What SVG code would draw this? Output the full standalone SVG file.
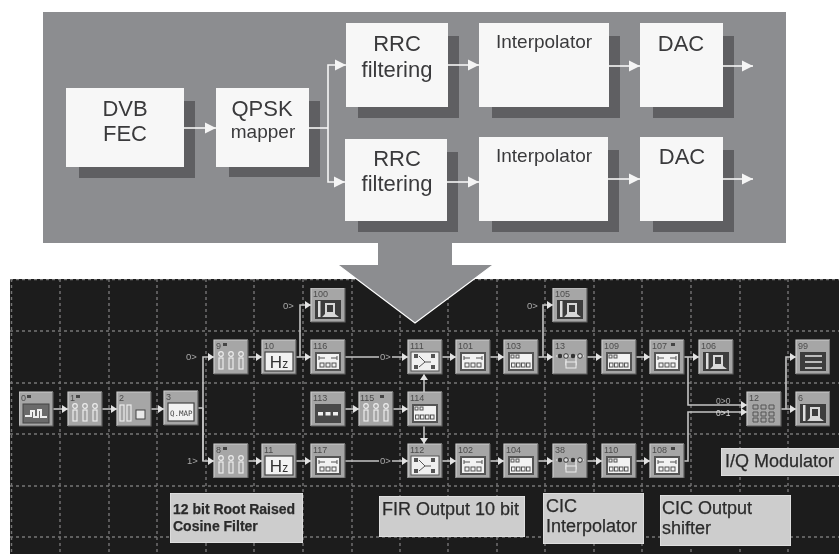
<svg xmlns="http://www.w3.org/2000/svg" xmlns:xlink="http://www.w3.org/1999/xlink" width="839" height="554" viewBox="0 0 839 554">
<style>
.t{font-family:"Liberation Sans",Arial,sans-serif;fill:#3a3a3c;text-anchor:middle}
.big{font-size:22px}.mid{font-size:19px}
.box{fill:#f7f7f7}.sh{fill:#5f5f62}
.w{fill:none;stroke:#f5f5f5;stroke-width:1.6}
.grid{stroke:#747474;stroke-width:1.4;stroke-dasharray:3 3;fill:none}
.c{fill:none;stroke:#c4c4c4;stroke-width:1.6}
.num{font-family:"Liberation Sans",Arial,sans-serif;font-size:9px;fill:#4c4c4c}
.port{font-family:"Liberation Sans",Arial,sans-serif;font-size:9.5px;fill:#a8a8a8}
.lb{fill:#cdcdcd;stroke:#eeeeee;stroke-width:1}
.lt{font-family:"Liberation Sans",Arial,sans-serif;font-size:18px;fill:#2c2c2c;stroke:#2c2c2c;stroke-width:.25}
.lb2{font-weight:bold;font-size:14px}
.p{fill:#f2f2f2;stroke:#444;stroke-width:1.2}
.ink{fill:none;stroke:#555;stroke-width:1}
.lite{fill:none;stroke:#ececec;stroke-width:1.2}
.dk{fill:#555}
</style>
<defs>
<marker id="aw" markerUnits="userSpaceOnUse" markerWidth="12" markerHeight="12" refX="11" refY="6" orient="auto"><path d="M0 0.5L11 6L0 11.5z" fill="#f5f5f5"/></marker>
<marker id="ag" markerUnits="userSpaceOnUse" markerWidth="7" markerHeight="8" refX="6" refY="4" orient="auto"><path d="M0 0L6 4L0 8z" fill="#e2e2e2"/></marker>
<filter id="soft" x="0" y="0" width="1" height="1"><feGaussianBlur stdDeviation="0.45"/></filter>
<g id="b"><rect width="34" height="34" fill="#a6a6a6"/><path d="M0 34V0H34" fill="none" stroke="#cdcdcd" stroke-width="1.2"/><path d="M34 0V34H0" fill="none" stroke="#5c5c5c" stroke-width="1.2"/></g>
<g id="scope"><rect x="4" y="12" width="26" height="19" fill="#3c3c3c"/><rect x="7" y="13" width="2.500" height="16" fill="#ddd"/><path d="M11 29L14 26V15H24V26L28 29z" fill="#d8d8d8"/><rect x="16" y="17" width="6" height="7" fill="#3c3c3c"/></g>
<g id="sl"><g id="slc"><circle cx="7" cy="14" r="2.300" class="lite"/><rect x="5" y="18" width="4" height="11" class="lite"/></g><use href="#slc" x="10"/><use href="#slc" x="20"/></g>
<g id="hz"><rect x="3" y="12" width="28" height="19" class="p"/><text x="17" y="28" style="font-family:'Liberation Sans',sans-serif;font-size:17px;fill:#333" text-anchor="middle">H<tspan font-size="12">z</tspan></text></g>
<g id="bs"><rect x="4" y="12" width="26" height="19" fill="#555"/><rect x="6" y="14" width="22" height="15" fill="#f2f2f2"/><path d="M8 16V20M8 18H14M20 18H26M26 16V20" class="ink"/><rect x="9" y="23" width="4" height="4" class="ink"/><rect x="15" y="23" width="4" height="4" class="ink"/><rect x="21" y="23" width="4" height="4" class="ink"/></g>
<g id="rg"><rect x="4" y="12" width="26" height="19" fill="#555"/><rect x="6" y="14" width="22" height="15" fill="#f2f2f2"/><rect x="7" y="15" width="3" height="3" class="ink"/><rect x="12" y="15" width="3" height="3" class="ink"/><rect x="7.500" y="23" width="3.500" height="4" class="ink"/><rect x="12.500" y="23" width="3.500" height="4" class="ink"/><rect x="17.500" y="23" width="3.500" height="4" class="ink"/><rect x="22.500" y="23" width="3.500" height="4" class="ink"/></g>
<g id="fir"><rect x="3" y="12" width="28" height="19" fill="#f0f0f0" stroke="#555"/><rect x="6" y="14" width="4" height="4" class="dk"/><rect x="23" y="14" width="4" height="4" class="dk"/><rect x="6" y="25" width="4" height="4" class="dk"/><rect x="23" y="25" width="4" height="4" class="dk"/><path d="M11 16L17 22L11 27M17 22H23" class="ink" stroke-width="2"/></g>
<g id="cic"><path d="M3 16H31M13 16V25H23V16" class="lite"/><rect x="13" y="22" width="10" height="6" fill="#a6a6a6" stroke="#ececec"/><circle cx="7" cy="16" r="2.300" fill="#333"/><circle cx="13" cy="16" r="2.300" fill="#ddd" stroke="#333"/><circle cx="20" cy="16" r="2.300" fill="#333"/><circle cx="27" cy="16" r="2.300" fill="#ddd" stroke="#333"/></g>
</defs>
<rect width="839" height="554" fill="#fff"/>

<g id="top-panel">
<rect x="43" y="12" width="743" height="231" fill="#8c8d90"/>
</g>

<g id="bottom-panel" filter="url(#soft)">
<rect x="10" y="279" width="829" height="275" fill="#1e1d1e"/>
<path class="grid" d="M11.500 279V554M60 279V554M109 279V554M157 279V554M206 279V554M254 279V554M303 279V554M352 279V554M400 279V554M448 279V554M497 279V554M545 279V554M594 279V554M642 279V554M691 279V554M740 279V554M788 279V554M10 279.500H839M10 331H839M10 383H839M10 434H839M10 486H839M10 537H839"/>
</g>

<g id="connectors-bottom" filter="url(#soft)">
<path class="c" marker-end="url(#ag)" d="M53 409H68"/>
<path class="c" marker-end="url(#ag)" d="M102 409H117"/>
<path class="c" marker-end="url(#ag)" d="M150 409H164"/>
<path class="c" d="M198 408H203"/>
<path class="c" marker-end="url(#ag)" d="M203 461V357H214"/>
<path class="c" marker-end="url(#ag)" d="M203 408V461H214"/>
<path class="c" marker-end="url(#ag)" d="M247 357H262"/>
<path class="c" marker-end="url(#ag)" d="M296 357H311"/>
<path class="c" marker-end="url(#ag)" d="M300 357V305H311"/>
<path class="c" marker-end="url(#ag)" d="M344 357H408"/>
<path class="c" marker-end="url(#ag)" d="M247 461H262"/>
<path class="c" marker-end="url(#ag)" d="M296 461H311"/>
<path class="c" marker-end="url(#ag)" d="M344 461H408"/>
<path class="c" marker-end="url(#ag)" d="M345 409H359"/>
<path class="c" marker-end="url(#ag)" d="M393 409H408"/>
<path class="c" marker-end="url(#ag)" d="M424 392V374"/>
<path class="c" marker-end="url(#ag)" d="M424 426V444"/>
<path class="c" marker-end="url(#ag)" d="M441 357H456"/>
<path class="c" marker-end="url(#ag)" d="M490 357H504"/>
<path class="c" marker-end="url(#ag)" d="M538 357H553"/>
<path class="c" marker-end="url(#ag)" d="M543 357V305H553"/>
<path class="c" marker-end="url(#ag)" d="M587 357H602"/>
<path class="c" marker-end="url(#ag)" d="M635 357H650"/>
<path class="c" marker-end="url(#ag)" d="M684 357H699"/>
<path class="c" marker-end="url(#ag)" d="M441 461H456"/>
<path class="c" marker-end="url(#ag)" d="M490 461H504"/>
<path class="c" marker-end="url(#ag)" d="M538 461H553"/>
<path class="c" marker-end="url(#ag)" d="M587 461H602"/>
<path class="c" marker-end="url(#ag)" d="M635 461H650"/>
<path class="c" marker-end="url(#ag)" d="M688 357V405H747"/>
<path class="c" marker-end="url(#ag)" d="M684 461H688V412H747"/>
<path class="c" marker-end="url(#ag)" d="M781 409H796"/>
<path class="c" marker-end="url(#ag)" d="M786 409V357H796"/>
<text class="port" x="186" y="360">0&gt;</text>
<text class="port" x="187" y="464">1&gt;</text>
<text class="port" x="283" y="309">0&gt;</text>
<text class="port" x="527" y="309">0&gt;</text>
<rect x="379" y="352" width="13" height="10" fill="#1e1d1e"/><text class="port" x="380" y="360">0&gt;</text>
<rect x="379" y="456" width="13" height="10" fill="#1e1d1e"/><text class="port" x="380" y="464">0&gt;</text>
<text class="port" x="716" y="404" style="font-size:8.5px">0&gt;0</text>
<text class="port" x="716" y="416" style="font-size:8.5px;fill:#ddd">0&gt;1</text>
</g>

<g filter="url(#soft)">
<g id="n0" transform="translate(19,392)"><use href="#b"/><text class="num" x="2" y="9">0</text><rect x="8" y="3" width="4" height="3" fill="#444"/><rect x="4" y="12" width="26" height="19" fill="#6a6a6a" stroke="#444"/><path d="M6 24H12V19H15V25H19V18H22V25H28" fill="none" stroke="#eee" stroke-width="2"/></g>
<g id="n1" transform="translate(68,392)"><use href="#b"/><text class="num" x="2" y="9">1</text><rect x="8" y="3" width="4" height="3" fill="#444"/><use href="#sl"/></g>
<g id="n2" transform="translate(117,392)"><use href="#b"/><text class="num" x="2" y="9">2</text><rect x="3" y="13" width="4" height="16" class="lite"/><rect x="10" y="13" width="4" height="16" class="lite"/><rect x="19" y="18" width="9" height="9" fill="#e8e8e8" stroke="#444"/></g>
<g id="n3" transform="translate(164,391)"><use href="#b"/><text class="num" x="2" y="9">3</text><rect x="4" y="12" width="26" height="18" class="p"/><text x="6" y="25" style="font-family:'DejaVu Sans Mono',monospace;font-size:7.5px;fill:#444">Q.MAP</text></g>
<g id="n9" transform="translate(214,340)"><use href="#b"/><text class="num" x="2" y="9">9</text><rect x="9" y="3" width="4" height="3" fill="#444"/><use href="#sl"/></g>
<g id="n10" transform="translate(262,340)"><use href="#b"/><text class="num" x="2" y="9">10</text><use href="#hz"/></g>
<g id="n116" transform="translate(311,340)"><use href="#b"/><text class="num" x="2" y="9">116</text><use href="#bs"/></g>
<g id="n100" transform="translate(311,288)"><use href="#b"/><text class="num" x="2" y="9">100</text><use href="#scope"/></g>
<g id="n111" transform="translate(408,340)"><use href="#b"/><text class="num" x="2" y="9">111</text><use href="#fir"/></g>
<g id="n113" transform="translate(311,392)"><use href="#b"/><text class="num" x="2" y="9">113</text><rect x="4" y="12" width="26" height="19" fill="#4a4a4a"/><rect x="7" y="20" width="5" height="3.500" fill="#eee"/><rect x="14.500" y="20" width="5" height="3.500" fill="#eee"/><rect x="22" y="20" width="5" height="3.500" fill="#eee"/></g>
<g id="n115" transform="translate(359,392)"><use href="#b"/><text class="num" x="1" y="9">115</text><rect x="21" y="3" width="4" height="3" fill="#444"/><use href="#sl"/></g>
<g id="n114" transform="translate(408,392)"><use href="#b"/><text class="num" x="2" y="9">114</text><use href="#rg"/></g>
<g id="n8" transform="translate(214,444)"><use href="#b"/><text class="num" x="2" y="9">8</text><rect x="9" y="3" width="4" height="3" fill="#444"/><use href="#sl"/></g>
<g id="n11" transform="translate(262,444)"><use href="#b"/><text class="num" x="2" y="9">11</text><use href="#hz"/></g>
<g id="n117" transform="translate(311,444)"><use href="#b"/><text class="num" x="2" y="9">117</text><use href="#bs"/></g>
<g id="n112" transform="translate(408,444)"><use href="#b"/><text class="num" x="2" y="9">112</text><use href="#fir"/></g>
<g id="n101" transform="translate(456,340)"><use href="#b"/><text class="num" x="2" y="9">101</text><use href="#bs"/></g>
<g id="n103" transform="translate(504,340)"><use href="#b"/><text class="num" x="2" y="9">103</text><use href="#rg"/></g>
<g id="n105" transform="translate(553,288)"><use href="#b"/><text class="num" x="2" y="9">105</text><use href="#scope"/></g>
<g id="n13" transform="translate(553,340)"><use href="#b"/><text class="num" x="2" y="9">13</text><use href="#cic"/></g>
<g id="n109" transform="translate(602,340)"><use href="#b"/><text class="num" x="2" y="9">109</text><use href="#rg"/></g>
<g id="n107" transform="translate(650,340)"><use href="#b"/><text class="num" x="2" y="9">107</text><rect x="21" y="3" width="4" height="3" fill="#444"/><use href="#bs"/></g>
<g id="n106" transform="translate(699,340)"><use href="#b"/><text class="num" x="2" y="9">106</text><use href="#scope"/></g>
<g id="n102" transform="translate(456,444)"><use href="#b"/><text class="num" x="2" y="9">102</text><use href="#bs"/></g>
<g id="n104" transform="translate(504,444)"><use href="#b"/><text class="num" x="2" y="9">104</text><use href="#rg"/></g>
<g id="n38" transform="translate(553,444)"><use href="#b"/><text class="num" x="2" y="9">38</text><use href="#cic"/></g>
<g id="n110" transform="translate(602,444)"><use href="#b"/><text class="num" x="2" y="9">110</text><use href="#rg"/></g>
<g id="n108" transform="translate(650,444)"><use href="#b"/><text class="num" x="2" y="9">108</text><rect x="21" y="3" width="4" height="3" fill="#444"/><use href="#bs"/></g>
<g id="n12" transform="translate(747,392)"><use href="#b"/><text class="num" x="2" y="9">12</text><path d="M6 13h5v4H6zM14 13h5v4h-5zM22 13h5v4h-5zM6 20h5v4H6zM14 20h5v4h-5zM22 20h5v4h-5zM6 26h5v4H6zM14 26h5v4h-5zM22 26h5v4h-5z" class="ink"/></g>
<g id="n99" transform="translate(796,340)"><use href="#b"/><text class="num" x="2" y="9">99</text><rect x="4" y="12" width="26" height="19" fill="#3c3c3c"/><path d="M9 16H26M9 22H26M9 28H26" fill="none" stroke="#e6e6e6" stroke-width="1.6"/></g>
<g id="n6" transform="translate(796,392)"><use href="#b"/><text class="num" x="2" y="9">6</text><use href="#scope"/></g>
</g>

<g id="label-rrc" filter="url(#soft)"><rect class="lb" x="170" y="493" width="133" height="50"/><text class="lt lb2" x="173" y="514">12 bit Root Raised</text><text class="lt lb2" x="173" y="531">Cosine Filter</text></g>
<g id="label-fir" filter="url(#soft)"><rect class="lb" x="379" y="496" width="146" height="41"/><text class="lt" x="382" y="515">FIR Output 10 bit</text></g>
<g id="label-cic" filter="url(#soft)"><rect class="lb" x="543" y="493" width="101" height="51"/><text class="lt" x="546" y="512">CIC</text><text class="lt" x="546" y="532">Interpolator</text></g>
<g id="label-shift" filter="url(#soft)"><rect class="lb" x="660" y="495" width="131" height="51"/><text class="lt" x="662" y="514">CIC Output</text><text class="lt" x="662" y="534">shifter</text></g>
<g id="label-iq" filter="url(#soft)"><rect class="lb" x="721" y="448" width="119" height="28"/><text class="lt" x="725" y="467">I/Q Modulator</text></g>

<g id="big-arrow"><path d="M378 243V265H338L415 323L493 265H452V243z" fill="#8c8d90"/><path d="M338 265L415 323L493 265" fill="none" stroke="#fff" stroke-width="1.2"/></g>

<g id="dvb"><rect class="sh" x="79" y="101" width="116" height="77"/><rect class="box" x="66" y="88" width="118" height="79"/><text class="t big" x="125" y="116">DVB</text><text class="t big" x="125" y="141">FEC</text></g>
<g id="qpsk"><rect class="sh" x="229" y="101" width="91" height="76"/><rect class="box" x="216" y="88" width="93" height="79"/><text class="t big" x="262" y="116">QPSK</text><text class="t mid" x="263" y="138">mapper</text></g>
<g id="rrc1"><rect class="sh" x="358" y="36" width="101" height="82"/><rect class="box" x="346" y="23" width="102" height="84"/><text class="t big" x="397" y="51">RRC</text><text class="t big" x="397" y="77">filtering</text></g>
<g id="rrc2"><rect class="sh" x="358" y="152" width="100" height="80"/><rect class="box" x="345" y="139" width="102" height="82"/><text class="t big" x="397" y="166">RRC</text><text class="t big" x="397" y="191">filtering</text></g>
<g id="int1"><rect class="sh" x="492" y="36" width="128" height="82"/><rect class="box" x="479" y="23" width="130" height="84"/><text class="t mid" x="544" y="48">Interpolator</text></g>
<g id="int2"><rect class="sh" x="492" y="150" width="127" height="82"/><rect class="box" x="479" y="137" width="129" height="84"/><text class="t mid" x="544" y="162">Interpolator</text></g>
<g id="dac1"><rect class="sh" x="653" y="36" width="81" height="82"/><rect class="box" x="640" y="23" width="83" height="84"/><text class="t big" x="681" y="51">DAC</text></g>
<g id="dac2"><rect class="sh" x="653" y="150" width="81" height="82"/><rect class="box" x="640" y="137" width="83" height="84"/><text class="t big" x="682" y="164">DAC</text></g>

<g id="connectors-top">
<path class="w" marker-end="url(#aw)" d="M184 128H216"/>
<path class="w" d="M309 128H328"/>
<path class="w" marker-end="url(#aw)" d="M328 128V65H346"/>
<path class="w" marker-end="url(#aw)" d="M328 128V182H345"/>
<path class="w" marker-end="url(#aw)" d="M448 65H479"/>
<path class="w" marker-end="url(#aw)" d="M447 182H479"/>
<path class="w" marker-end="url(#aw)" d="M609 66H640"/>
<path class="w" marker-end="url(#aw)" d="M608 179H640"/>
<path class="w" marker-end="url(#aw)" d="M723 66H753"/>
<path class="w" marker-end="url(#aw)" d="M723 179H753"/>
</g>
</svg>
